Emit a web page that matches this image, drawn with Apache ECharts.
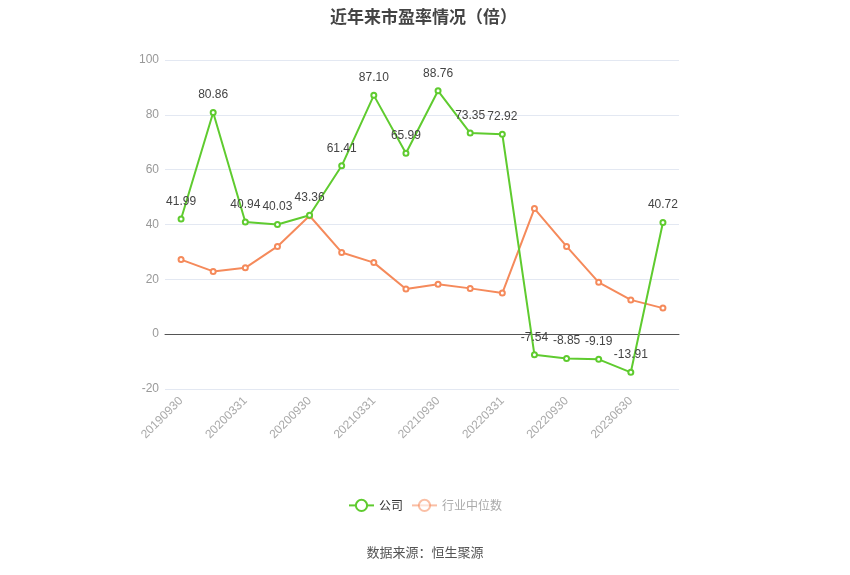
<!DOCTYPE html>
<html>
<head>
<meta charset="utf-8">
<script src="https://cdn.jsdelivr.net/npm/echarts@6/dist/echarts.min.js"></script>
<style>html,body{margin:0;padding:0;background:#fff}#c{width:850px;height:575px}</style>
</head>
<body>
<div id="c"></div>
<script>
const categories = ['20190930','20191231','20200331','20200630','20200930','20201231','20210331','20210630','20210930','20211231','20220331','20220630','20220930','20221231','20230630','20230930'];
const companyValues = [41.99, 80.86, 40.94, 40.03, 43.36, 61.41, 87.10, 65.99, 88.76, 73.35, 72.92, -7.54, -8.85, -9.19, -13.91, 40.72];
const industryValues = [27.2, 22.9, 24.2, 32.0, 43.2, 29.8, 26.1, 16.5, 18.2, 16.7, 15.0, 45.8, 32.0, 18.9, 12.5, 9.5];
const yTicks = {min: -20, max: 100, interval: 20};

const chart = echarts.init(document.getElementById('c'));
chart.setOption({
  animation: false,
  title: {
    text: '近年来市盈率情况（倍）',
    left: 325, top: 3,
    textStyle: {fontSize: 17, fontWeight: 'bold', color: '#444', fontFamily: 'Noto Sans CJK SC'}
  },
  legend: {
    bottom: 58, left: 'center', itemWidth: 25, itemHeight: 14,
    textStyle: {color: '#333', fontSize: 12, fontFamily: 'Noto Sans CJK SC'},
    data: [
      {name: '公司'},
      {name: '行业中位数', textStyle: {color: '#aaa'}, itemStyle: {opacity: 0.55}, lineStyle: {opacity: 0.55}}
    ]
  },
  graphic: [{
    type: 'text', left: 'center', top: 546,
    style: {text: '数据来源：恒生聚源', fill: '#555', fontSize: 13, fontFamily: 'Noto Sans CJK SC'}
  }],
  grid: {left: 165, right: 171, top: 60, bottom: 186},
  xAxis: {
    type: 'category', data: categories, boundaryGap: true,
    axisLine: {lineStyle: {color: '#555'}},
    axisTick: {alignWithLabel: true, interval: 1, lineStyle: {color: '#555'}},
    axisLabel: {interval: 1, rotate: 45, color: '#aaa', fontSize: 12, margin: 10}
  },
  yAxis: {
    type: 'value', min: yTicks.min, max: yTicks.max, interval: yTicks.interval,
    axisLine: {show: false}, axisTick: {show: false},
    axisLabel: {color: '#999', fontSize: 12, margin: 6},
    splitLine: {lineStyle: {color: '#e3e8f2'}}
  },
  series: [
    {
      name: '公司', type: 'line', data: companyValues,
      symbol: 'emptyCircle', symbolSize: 5,
      itemStyle: {color: '#5fcb2f'}, lineStyle: {width: 2, color: '#5fcb2f'},
      label: {show: true, position: 'top', color: '#444', fontSize: 12, distance: 8,
        formatter: p => p.value.toFixed(2)},
      z: 3
    },
    {
      name: '行业中位数', type: 'line', data: industryValues,
      symbol: 'emptyCircle', symbolSize: 5,
      itemStyle: {color: '#f58a5b'}, lineStyle: {width: 2, color: '#f58a5b'},
      z: 2
    }
  ]
});
</script>
</body>
</html>
